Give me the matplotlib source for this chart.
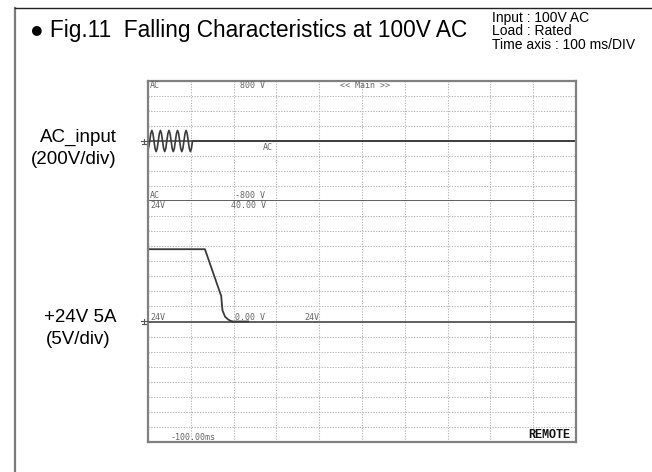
# falling characteristics at 100V AC - scope capture redraw
import matplotlib
matplotlib.use('Agg')
import matplotlib.pyplot as plt
from matplotlib.lines import Line2D

W, H = 652, 472

# AC input trace (ms, V) - 5 cycles then switched off
ac_time = [-100, -96, -93.5, -91, -88.5, -86, -83.5, -81, -78.5,
           -76, -73.5, -71, -68.5, -66, -63.5, -61, -58.5,
           -56, -53.5, -51, -48.5, -46, -43.5, -41, -38.5,
           -36, -33.5, -31, -28.5, -26, -23.5, -21, -18.5,
           -16, -13.5, -11, -8.5, -6, -3.5, -1, 1.5, 4, 900]
ac_volt = [-134, 0, 100, 141, 100, 0, -100, -141, -100,
           0, 100, 141, 100, 0, -100, -141, -100,
           0, 100, 141, 100, 0, -100, -141, -100,
           0, 100, 141, 100, 0, -100, -141, -100,
           0, 100, 141, 100, 0, -100, -141, -100, 0, 0]

# +24V output trace (ms, V)
out_time = [-100, 33, 68, 71, 74, 80, 87, 93, 99, 134]
out_volt = [24, 24, 9.7, 8.5, 3.7, 1.6, 0.7, 0.2, 0, 0]

grid_times = [0, 100, 200, 300, 400, 500, 600, 700, 800]
ac_levels = [-600, -400, -200, 0, 200, 400, 600]
out_levels = [-35, -30, -25, -20, -15, -10, -5, 0, 5, 10, 15, 20, 25, 30, 35]


def fx(x):
    return x / W


def fy(y):
    return 1 - y / H


fig = plt.figure(figsize=(W / 100, H / 100), dpi=100)

# outer frame (only left and top visible)
fig.add_artist(Line2D([fx(15), fx(15)], [fy(8), 0], color='#7a7a7a', lw=1.6))
fig.add_artist(Line2D([fx(15), 1], [fy(8), fy(8)], color='#222222', lw=1.0))

fig.text(fx(30), fy(31), '\u25cf Fig.11  Falling Characteristics at 100V AC',
         fontsize=16.3, family='Liberation Sans', va='center', ha='left')
fig.text(fx(492), fy(11), 'Input : 100V AC\nLoad : Rated\nTime axis : 100 ms/DIV',
         fontsize=10, family='Liberation Sans', va='top', ha='left',
         linespacing=0.95)

fig.text(fx(117), fy(137), 'AC_input', fontsize=13.5, family='Liberation Sans',
         ha='right', va='center')
fig.text(fx(117), fy(159), '(200V/div)', fontsize=13.5, family='Liberation Sans',
         ha='right', va='center')
fig.text(fx(117), fy(317), '+24V 5A', fontsize=13.5, family='Liberation Sans',
         ha='right', va='center')
fig.text(fx(111), fy(340), '(5V/div)', fontsize=13.5, family='Liberation Sans',
         ha='right', va='center')

x0, x1 = 148, 576
ax_ac = fig.add_axes([fx(x0), fy(201), (x1 - x0) / W, 120 / H])
ax_out = fig.add_axes([fx(x0), fy(442), (x1 - x0) / W, 241 / H])

grid_kw = dict(color='#b4b4b4', lw=0.75, ls=(0, (1.2, 1.4)))
for ax, levels, lim in [(ax_ac, ac_levels, 800), (ax_out, out_levels, 40)]:
    ax.set_xlim(-100, 900)
    ax.set_ylim(-lim, lim)
    ax.set_xticks([])
    ax.set_yticks([])
    for t in grid_times:
        ax.axvline(t, **grid_kw)
    for v in levels:
        ax.axhline(v, **grid_kw)
    ax.axhline(0, color='#555555', lw=1.3)
    for s in ax.spines.values():
        s.set_color('#808080')
        s.set_linewidth(1.6)

ax_ac.spines['bottom'].set_color('#444444')
ax_ac.spines['bottom'].set_linewidth(1.2)
ax_out.spines['top'].set_visible(False)

ax_ac.plot(ac_time, ac_volt, color='#3a3a3a', lw=1.2)
ax_out.plot(out_time, out_volt, color='#3a3a3a', lw=1.3)

# scope annotations
mono = dict(family='DejaVu Sans Mono', fontsize=6, color='#666666', va='center', ha='left')
fig.text(fx(150), fy(85), 'AC', **mono)
fig.text(fx(240), fy(85), '800 V', **mono)
fig.text(fx(340), fy(85), '<< Main >>', **mono)
fig.text(fx(263), fy(147), 'AC', **mono)
fig.text(fx(150), fy(196), 'AC', **mono)
fig.text(fx(235), fy(196), '-800 V', **mono)
fig.text(fx(150), fy(206), '24V', **mono)
fig.text(fx(231), fy(206), '40.00 V', **mono)
fig.text(fx(150), fy(317), '24V', **mono)
fig.text(fx(235), fy(317), '0.00 V', **mono)
fig.text(fx(304), fy(317), '24V', **mono)
fig.text(fx(171), fy(438), '-100.00ms', **mono)
fig.text(fx(528), fy(435), 'REMOTE', family='Liberation Mono', fontsize=8.5,
         fontweight='bold', color='#111111', va='center', ha='left')

# ground markers
for gy in (141, 321):
    fig.add_artist(Line2D([fx(141), fx(148)], [fy(gy), fy(gy)], color='#555555', lw=0.8))
    fig.add_artist(Line2D([fx(144), fx(144)], [fy(gy - 2), fy(gy + 3)], color='#555555', lw=0.8))
    fig.add_artist(Line2D([fx(142), fx(146)], [fy(gy + 3), fy(gy + 3)], color='#555555', lw=0.8))

fig.savefig('out.png', dpi=100)
